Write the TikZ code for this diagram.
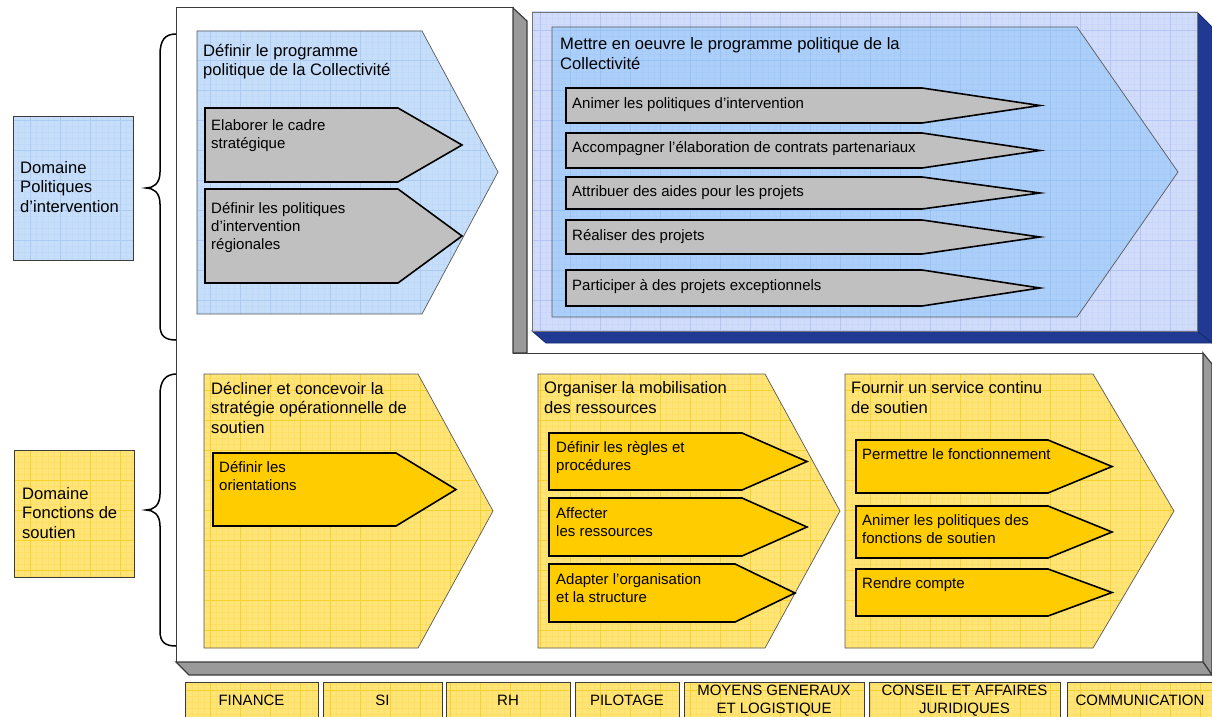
\documentclass[tikz,border=0pt]{standalone}
\usepackage{fontspec}
\setmainfont{Liberation Sans}
\definecolor{bluefill}{RGB}{198,222,250}
\definecolor{bluegrid}{RGB}{160,198,242}
\definecolor{lavfill}{RGB}{208,220,250}
\definecolor{lavgrid}{RGB}{170,188,244}
\definecolor{brightblue}{RGB}{172,207,250}
\definecolor{brightgrid}{RGB}{146,188,244}
\definecolor{darkblue}{RGB}{32,58,148}
\definecolor{yelfill}{RGB}{255,228,120}
\definecolor{yelgrid}{RGB}{247,202,20}
\definecolor{gold}{RGB}{255,204,0}
\definecolor{graybox}{RGB}{192,192,192}
\definecolor{face}{RGB}{154,154,154}
\definecolor{edge}{RGB}{60,60,60}
\newcommand\patshape[4]{%
  \begin{scope}
    \clip #1;
    \fill[#2] (0,-10) rectangle (1220,730);
    \draw[#3!18!#2, line width=0.25pt, step=6pt] (0,730) grid (1220,-10);
    \draw[#3!75!#2, line width=0.5pt, step=30pt] (0,730) grid (1220,-10);
  \end{scope}
  \draw[#4] #1;}
\tikzset{
  hdr/.style={anchor=base west, align=left, inner sep=0pt, font=\fontsize{16.6}{19.5}\selectfont},
  sub/.style={anchor=base west, align=left, inner sep=0pt, font=\fontsize{15}{18.3}\selectfont},
  lbl/.style={anchor=center, align=center, inner sep=0pt, font=\fontsize{15}{18.5}\selectfont},
  thinline/.style={draw=black!65, line width=0.7pt},
  arrowline/.style={draw=black, line width=1.6pt, line join=miter},
  faceline/.style={draw=edge, line width=1.2pt, fill=face},
  bracestyle/.style={draw=black, line width=1.5pt}
}
\begin{document}
\begin{tikzpicture}[x=1pt,y=-1pt]
\useasboundingbox (0,0) rectangle (1212,717);

% braces
\draw[bracestyle] (176,34) .. controls (165,34) and (160,40) .. (160,55) -- (160,172)
  .. controls (160,184) and (153,188) .. (146,188) .. controls (153,188) and (160,192) .. (160,204)
  -- (160,325) .. controls (160,336) and (165,340) .. (176,340);
\draw[bracestyle] (177,374) .. controls (166,374) and (160,380) .. (160,395) -- (160,494)
  .. controls (160,506) and (153,510) .. (146,510) .. controls (153,510) and (160,514) .. (160,526)
  -- (160,631) .. controls (160,642) and (165,646) .. (176,646);

% white L frame and 3D faces
\draw[fill=white, draw=edge, line width=1pt] (176,8) -- (513,8) -- (513,353) -- (1203,353) -- (1203,662) -- (176,662) -- cycle;
\draw[faceline] (513,8) -- (527,21) -- (527,353) -- (513,353) -- cycle;
\draw[faceline] (1203,353) -- (1212,364) -- (1212,675) -- (1203,662) -- cycle;
\draw[faceline] (176,662) -- (189,675) -- (1212,675) -- (1203,662) -- cycle;

% blue 3D box
\draw[fill=darkblue, draw=darkblue!70!black, line width=0.8pt] (1197,12) -- (1212,27) -- (1212,343) -- (1197,331) -- cycle;
\draw[fill=darkblue, draw=darkblue!70!black, line width=0.8pt] (532,331) -- (546,343) -- (1212,343) -- (1197,331) -- cycle;
\patshape{(532,12) rectangle (1197,331)}{lavfill}{lavgrid}{draw=black!55, line width=0.8pt}
\patshape{(552,27) -- (1077,27) -- (1178,172) -- (1077,317) -- (552,317) -- cycle}{brightblue}{brightgrid}{thinline}
\draw[arrowline, fill=graybox] (566,88) -- (922,88) -- (1040,105.5) -- (922,123) -- (566,123) -- cycle;
\draw[arrowline, fill=graybox] (566,133) -- (922,133) -- (1040,150.5) -- (922,168) -- (566,168) -- cycle;
\draw[arrowline, fill=graybox] (566,177) -- (922,177) -- (1040,193) -- (922,209) -- (566,209) -- cycle;
\draw[arrowline, fill=graybox] (566,220) -- (922,220) -- (1040,237) -- (922,254) -- (566,254) -- cycle;
\draw[arrowline, fill=graybox] (566,270) -- (922,270) -- (1040,288) -- (922,306) -- (566,306) -- cycle;

% upper-left blue pentagon
\patshape{(197,31) -- (422,31) -- (498,172) -- (422,314) -- (197,314) -- cycle}{bluefill}{bluegrid}{thinline}
\draw[arrowline, fill=graybox] (205,108) -- (398,108) -- (462,145) -- (398,182) -- (205,182) -- cycle;
\draw[arrowline, fill=graybox] (205,189) -- (398,189) -- (462,236) -- (398,283) -- (205,283) -- cycle;

% yellow pentagons
\patshape{(204,374) -- (418,374) -- (493,511) -- (418,648) -- (204,648) -- cycle}{yelfill}{yelgrid}{thinline}
\draw[arrowline, fill=gold] (213,453) -- (396,453) -- (456,489.5) -- (396,526) -- (213,526) -- cycle;
\patshape{(538,374) -- (765,374) -- (840,511) -- (765,648) -- (538,648) -- cycle}{yelfill}{yelgrid}{thinline}
\draw[arrowline, fill=gold] (549,433) -- (742,433) -- (807,461.5) -- (742,490) -- (549,490) -- cycle;
\draw[arrowline, fill=gold] (549,498) -- (742,498) -- (807,527) -- (742,556) -- (549,556) -- cycle;
\draw[arrowline, fill=gold] (549,564) -- (735,564) -- (795,593) -- (735,622) -- (549,622) -- cycle;
\patshape{(845,374) -- (1093,374) -- (1174,511) -- (1093,648) -- (845,648) -- cycle}{yelfill}{yelgrid}{thinline}
\draw[arrowline, fill=gold] (856,440) -- (1048,440) -- (1112,466.5) -- (1048,493) -- (856,493) -- cycle;
\draw[arrowline, fill=gold] (856,506) -- (1048,506) -- (1112,532) -- (1048,558) -- (856,558) -- cycle;
\draw[arrowline, fill=gold] (856,569) -- (1048,569) -- (1112,592.5) -- (1048,616) -- (856,616) -- cycle;

% domain boxes
\patshape{(13,116) rectangle (133,260)}{bluefill}{bluegrid}{draw=edge, line width=1pt}
\patshape{(14,450) rectangle (134,577)}{yelfill}{yelgrid}{draw=edge, line width=1pt}

% bottom labels
\patshape{(185,682) rectangle (318,725)}{yelfill}{yelgrid}{draw=edge, line width=1pt}
\patshape{(323,682) rectangle (442,725)}{yelfill}{yelgrid}{draw=edge, line width=1pt}
\patshape{(446,682) rectangle (570,725)}{yelfill}{yelgrid}{draw=edge, line width=1pt}
\patshape{(575,682) rectangle (679,725)}{yelfill}{yelgrid}{draw=edge, line width=1pt}
\patshape{(684,682) rectangle (864,725)}{yelfill}{yelgrid}{draw=edge, line width=1pt}
\patshape{(869,682) rectangle (1060,725)}{yelfill}{yelgrid}{draw=edge, line width=1pt}
\patshape{(1067,682) rectangle (1222,725)}{yelfill}{yelgrid}{draw=edge, line width=1pt}

% texts (base anchor = baseline of the last line)
\node[hdr] (dom1) at (20,212) {Domaine\\Politiques\\d’intervention};
\node[hdr] (dom2) at (22,538) {Domaine\\Fonctions de\\soutien};
\node[hdr] (h1) at (203,75.5) {Définir le programme\\politique de la Collectivité};
\node[hdr] (h2) at (560,69.5) {Mettre en oeuvre le programme politique de la\\Collectivité};
\node[hdr] (h3) at (211,433) {Décliner et concevoir la\\stratégie opérationnelle de\\soutien};
\node[hdr] (h4) at (544,413) {Organiser la mobilisation\\des ressources};
\node[hdr] (h5) at (851,413) {Fournir un service continu\\de soutien};

\node[sub] (g1) at (211,148.3) {Elaborer le cadre\\stratégique};
\node[sub] (g2) at (211,249.6) {Définir les politiques\\d’intervention\\régionales};
\node[sub] (r1) at (572,108.5) {Animer les politiques d’intervention};
\node[sub] (r2) at (572,152.5) {Accompagner l’élaboration de contrats partenariaux};
\node[sub] (r3) at (572,196) {Attribuer des aides pour les projets};
\node[sub] (r4) at (572,240) {Réaliser des projets};
\node[sub] (r5) at (572,290) {Participer à des projets exceptionnels};

\node[sub] (a1) at (219,490.3) {Définir les\\orientations};
\node[sub] (b1) at (556,470.3) {Définir les règles et\\procédures};
\node[sub] (b2) at (556,536.8) {Affecter\\les ressources};
\node[sub] (b3) at (556,602.8) {Adapter l’organisation\\et la structure};
\node[sub] (c1) at (862,459.5) {Permettre le fonctionnement};
\node[sub] (c2) at (862,543.3) {Animer les politiques des\\fonctions de soutien};
\node[sub] (c3) at (862,588.5) {Rendre compte};

\node[lbl] (l1) at (251.5,700.5) {FINANCE};
\node[lbl] (l2) at (382.5,700.5) {SI};
\node[lbl] (l3) at (508,700.5) {RH};
\node[lbl] (l4) at (627,700.5) {PILOTAGE};
\node[lbl] (l5) at (774,700.5) {MOYENS GENERAUX\\ET LOGISTIQUE};
\node[lbl] (l6) at (964.5,700.5) {CONSEIL ET AFFAIRES\\JURIDIQUES};
\node[lbl] (l7) at (1140,700.5) {COMMUNICATION};
\end{tikzpicture}
\end{document}
